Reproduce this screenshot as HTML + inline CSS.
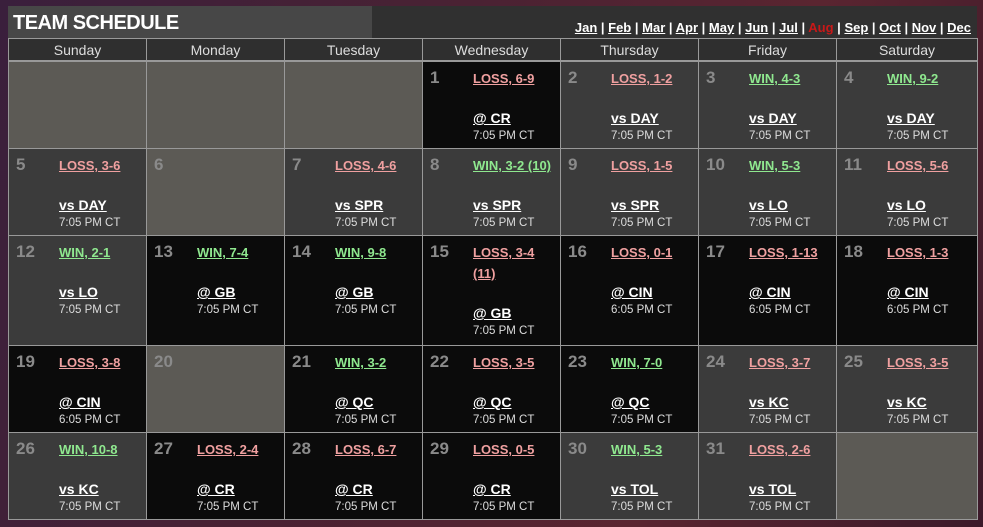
<!DOCTYPE html>
<html><head><meta charset="utf-8"><style>
body{margin:0;width:983px;height:527px;overflow:hidden;background:linear-gradient(110deg,#3a1f3c 0%,#4a2233 40%,#5a2530 70%,#3c1a2a 100%);font-family:"Liberation Sans",sans-serif;position:relative}
#title{position:absolute;left:8px;top:6px;width:364px;height:32px;background:#474747;color:#fff;font-weight:bold;font-size:20px;line-height:34px;padding-left:5px;box-sizing:border-box;letter-spacing:-0.5px}
#nav{position:absolute;left:372px;top:6px;width:605px;height:32px;background:#303030;text-align:right;font-size:13px;color:#fff;font-weight:bold;line-height:44px;padding-right:6px;box-sizing:border-box}
#nav a{color:#fff;text-decoration:underline}
#nav a.cur{color:#c81818;text-decoration:none}
.hd{position:absolute;top:38px;height:23px;background:#2f2f2f;color:#ddd;font-size:14px;text-align:center;line-height:23px;border:1px solid #999;box-sizing:border-box}
.cell{position:absolute;border:1px solid #999;box-sizing:border-box}
.num{position:absolute;left:7px;top:6px;font-size:17px;font-weight:bold;color:#8a8a8a}
.body{position:absolute;left:50px;top:6px;width:84px}
.res{font-size:13px;font-weight:bold;line-height:21px;text-decoration:underline}
.win{color:#8fe88f}.loss{color:#f0a0a0}
.opp{margin-top:19px;font-size:14px;font-weight:bold;color:#fff;text-decoration:underline;line-height:20px}
.time{font-size:11.5px;color:#ddd;line-height:16px}
</style></head><body>
<div id="title">TEAM SCHEDULE</div>
<div id="nav"></div>
<div id="cal"></div>
<script>
const months=["Jan","Feb","Mar","Apr","May","Jun","Jul","Aug","Sep","Oct","Nov","Dec"];
const days=["Sunday","Monday","Tuesday","Wednesday","Thursday","Friday","Saturday"];
const games=[
[1,"L","LOSS, 6-9","@ CR","7:05 PM CT"],[2,"L","LOSS, 1-2","vs DAY","7:05 PM CT"],[3,"W","WIN, 4-3","vs DAY","7:05 PM CT"],[4,"W","WIN, 9-2","vs DAY","7:05 PM CT"],
[5,"L","LOSS, 3-6","vs DAY","7:05 PM CT"],[7,"L","LOSS, 4-6","vs SPR","7:05 PM CT"],[8,"W","WIN, 3-2 (10)","vs SPR","7:05 PM CT"],[9,"L","LOSS, 1-5","vs SPR","7:05 PM CT"],[10,"W","WIN, 5-3","vs LO","7:05 PM CT"],[11,"L","LOSS, 5-6","vs LO","7:05 PM CT"],
[12,"W","WIN, 2-1","vs LO","7:05 PM CT"],[13,"W","WIN, 7-4","@ GB","7:05 PM CT"],[14,"W","WIN, 9-8","@ GB","7:05 PM CT"],[15,"L","LOSS, 3-4 (11)","@ GB","7:05 PM CT"],[16,"L","LOSS, 0-1","@ CIN","6:05 PM CT"],[17,"L","LOSS, 1-13","@ CIN","6:05 PM CT"],[18,"L","LOSS, 1-3","@ CIN","6:05 PM CT"],
[19,"L","LOSS, 3-8","@ CIN","6:05 PM CT"],[21,"W","WIN, 3-2","@ QC","7:05 PM CT"],[22,"L","LOSS, 3-5","@ QC","7:05 PM CT"],[23,"W","WIN, 7-0","@ QC","7:05 PM CT"],[24,"L","LOSS, 3-7","vs KC","7:05 PM CT"],[25,"L","LOSS, 3-5","vs KC","7:05 PM CT"],
[26,"W","WIN, 10-8","vs KC","7:05 PM CT"],[27,"L","LOSS, 2-4","@ CR","7:05 PM CT"],[28,"L","LOSS, 6-7","@ CR","7:05 PM CT"],[29,"L","LOSS, 0-5","@ CR","7:05 PM CT"],[30,"W","WIN, 5-3","vs TOL","7:05 PM CT"],[31,"L","LOSS, 2-6","vs TOL","7:05 PM CT"]];
const colX=[8,146,284,422,560,698,836,977];
const rowY=[61,148,235,345,432,519];
const startDay=3;
const nav=document.getElementById('nav');
months.forEach((m,i)=>{const a=document.createElement('a');a.textContent=m;


if(m==="Aug")a.className='cur';nav.appendChild(a);if(i<11)nav.appendChild(document.createTextNode(' | '));});
const cal=document.getElementById('cal');
days.forEach((d,i)=>{const h=document.createElement('div');h.className='hd';


h.style.left=colX[i]+'px';h.style.width=(colX[i+1]-colX[i]+1)+'px';h.textContent=d;cal.appendChild(h);});
const gm={};games.forEach(g=>gm[g[0]]=g);
for(let s=0;s<35;s++){const r=Math.floor(s/7),c=s%7,day=s-startDay+1;
const el=document.createElement('div');el.className='cell';
el.style.left=colX[c]+'px';el.style.top=rowY[r]+'px';el.style.width=(colX[c+1]-colX[c]+1)+'px';el.style.height=(rowY[r+1]-rowY[r]+1)+'px';
const g=gm[day];
if(!g){el.style.background='#5c5a55';

}
else{const away=g[3].startsWith('@');el.style.background=away?'#0b0b0b':'#3b3b3b';


el.innerHTML='<div class="num">'+day+'</div><div class="body"><div class="res '+(g[1]=='W'?'win':'loss')+'">'+g[2]+'</div><div class="opp">'+g[3]+'</div><div class="time">'+g[4]+'</div></div>';}
if(!g&&day>=1&&day<=31){el.innerHTML='<div class="num">'+day+'</div>';}
cal.appendChild(el);}
</script>
</body></html>
